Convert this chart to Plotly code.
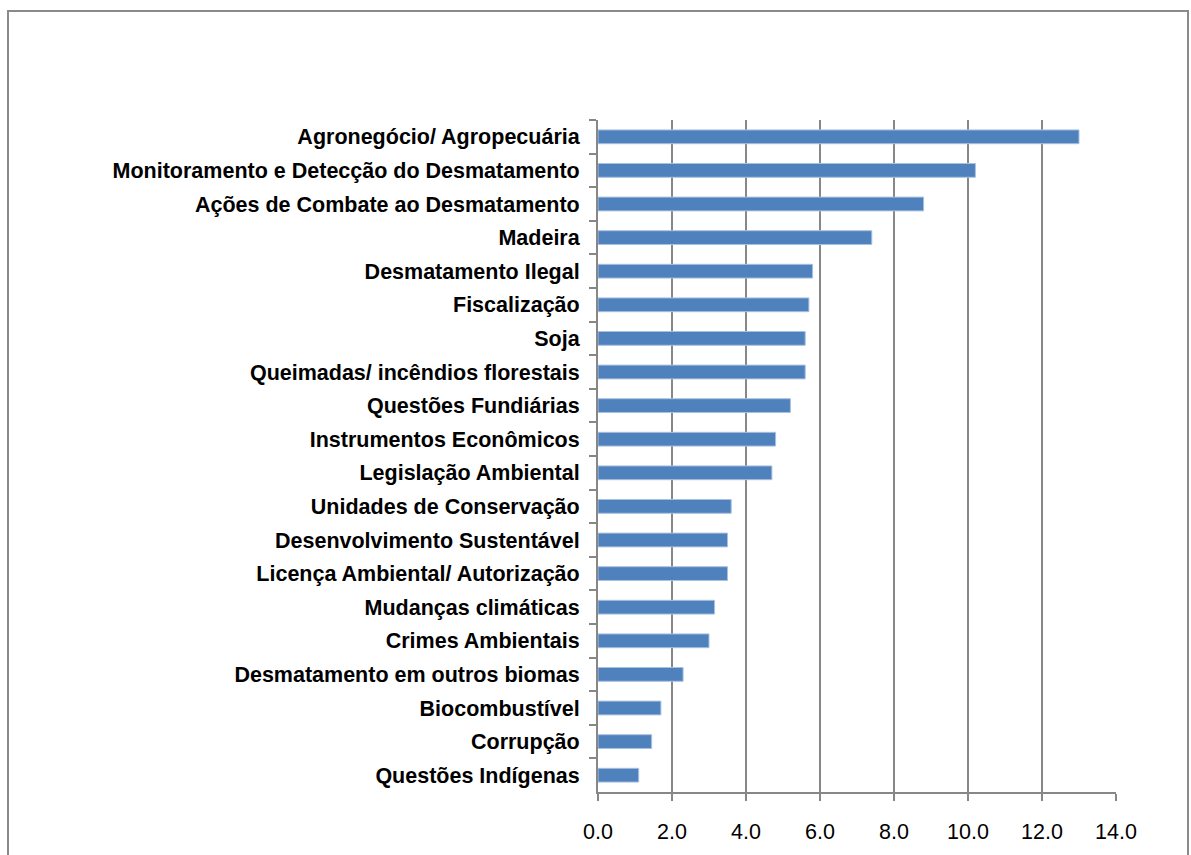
import plotly.graph_objects as go

categories = [
    "Agronegócio/ Agropecuária",
    "Monitoramento e Detecção do Desmatamento",
    "Ações de Combate ao Desmatamento",
    "Madeira",
    "Desmatamento Ilegal",
    "Fiscalização",
    "Soja",
    "Queimadas/ incêndios florestais",
    "Questões Fundiárias",
    "Instrumentos Econômicos",
    "Legislação Ambiental",
    "Unidades de Conservação",
    "Desenvolvimento Sustentável",
    "Licença Ambiental/ Autorização",
    "Mudanças climáticas",
    "Crimes Ambientais",
    "Desmatamento em outros biomas",
    "Biocombustível",
    "Corrupção",
    "Questões Indígenas",
]
values = [13.0, 10.2, 8.8, 7.4, 5.8, 5.7, 5.6, 5.6, 5.2, 4.8, 4.7, 3.6, 3.5, 3.5, 3.15, 3.0, 2.3, 1.7, 1.45, 1.1]
x_ticks = [0, 2, 4, 6, 8, 10, 12, 14]

W, H = 1191, 855
L, R, T, B = 598, 75, 120, 63

fig = go.Figure(
    go.Bar(
        x=values,
        y=categories,
        orientation="h",
        marker=dict(color="#4F81BD", line=dict(color="#A9C1E0", width=1)),
        hoverinfo="x+y",
    )
)

pw = W - L - R
ph = H - T - B

def px_x(p):
    return (p - L) / pw

def px_y(p):
    return (H - B - p) / ph

grid_col = "#878787"
fig.update_layout(
    width=W,
    height=H,
    margin=dict(l=L, r=R, t=T, b=B, autoexpand=False),
    paper_bgcolor="white",
    plot_bgcolor="white",
    showlegend=False,
    bargap=0.59,
    xaxis=dict(
        range=[0, 14],
        tickvals=x_ticks,
        tickformat=".1f",
        automargin=False,
        showgrid=True,
        gridcolor=grid_col,
        gridwidth=2,
        zeroline=False,
        showline=True,
        linecolor=grid_col,
        linewidth=2,
        ticks="outside",
        ticklen=7,
        tickcolor=grid_col,
        tickwidth=2,
        ticklabelstandoff=12,
        tickfont=dict(family="Liberation Sans, Arial, sans-serif", size=21.5, color="black"),
    ),
    yaxis=dict(
        categoryorder="array",
        categoryarray=categories,
        autorange="reversed",
        automargin=False,
        showgrid=False,
        zeroline=False,
        showline=True,
        linecolor=grid_col,
        linewidth=2,
        ticks="outside",
        tickson="boundaries",
        ticklen=7,
        tickcolor=grid_col,
        tickwidth=2,
        ticklabelstandoff=12,
        tickfont=dict(family="Liberation Sans, Arial, sans-serif", size=21.5, color="black", weight="bold"),
    ),
    shapes=[
        dict(
            type="rect",
            xref="paper",
            yref="paper",
            x0=px_x(8),
            x1=px_x(1188),
            y0=px_y(880),
            y1=px_y(11),
            line=dict(color="#8A8A8A", width=2),
            fillcolor="rgba(0,0,0,0)",
            layer="below",
        )
    ],
)

fig.write_html("out.html")
